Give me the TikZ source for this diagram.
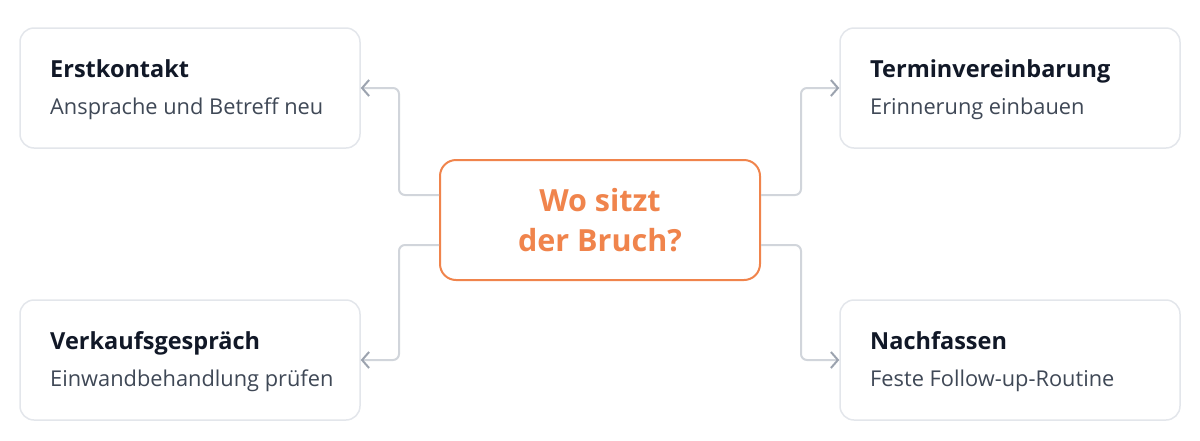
\documentclass[tikz,border=0pt]{standalone}
\usepackage{fontspec}
\setmainfont{Open Sans}
\usetikzlibrary{arrows.meta}
\definecolor{rahmen}{HTML}{E3E6EB}
\definecolor{linie}{HTML}{D1D5DB}
\definecolor{spitze}{HTML}{9CA3AF}
\definecolor{titelfarbe}{HTML}{111827}
\definecolor{textfarbe}{HTML}{3F4856}
\definecolor{orange}{HTML}{F0844C}
\tikzset{kasten/.style={draw=rahmen,fill=white,line width=1.5pt,rounded corners=14pt,minimum width=340pt,minimum height=120pt},
         mitte/.style={draw=orange,fill=white,line width=2pt,rounded corners=16pt,minimum width=320pt,minimum height=120pt,
                       align=center,text=orange,font=\fontsize{30.5}{40}\selectfont\bfseries},
         titel/.style={anchor=base west,inner sep=0pt,text=titelfarbe,font=\fontsize{23.5}{26}\selectfont\bfseries},
         zeile/.style={anchor=base west,inner sep=0pt,text=textfarbe,font=\fontsize{21.8}{24}\selectfont},
         pfeil/.style={draw=linie,line width=2pt,rounded corners=6pt,
                       -{Straight Barb[length=7pt,width=16pt,line width=2pt,color=spitze]}}}

\begin{document}
\begin{tikzpicture}[x=1pt,y=-1pt]
    \useasboundingbox (0,0) rectangle (1200,440);
    % Kaesten
    \path node [kasten] (ek) at (190,88) {}
          node [kasten] (tv) at (1010,88) {}
          node [kasten] (vg) at (190,360) {}
          node [kasten] (nf) at (1010,360) {}
          node [mitte] (bruch) at (600,220) {Wo sitzt\\der Bruch?};

    % Texte
    \node [titel] (ek-t) at (50,77) {Erstkontakt};
    \node [zeile] (ek-z) at (50,114) {Ansprache und Betreff neu};
    \node [titel] (tv-t) at (870,77) {Terminvereinbarung};
    \node [zeile] (tv-z) at (870,114) {Erinnerung einbauen};
    \node [titel] (vg-t) at (50,349) {Verkaufsgespräch};
    \node [zeile] (vg-z) at (50,386) {Einwandbehandlung prüfen};
    \node [titel] (nf-t) at (870,349) {Nachfassen};
    \node [zeile] (nf-z) at (870,386) {Feste Follow-up-Routine};

    % Verbinder
    \draw [pfeil] ([yshift=25pt]bruch.west) -- ++(-40,0) |- (ek.east);
    \draw [pfeil] ([yshift=-25pt]bruch.west) -- ++(-40,0) |- (vg.east);
    \draw [pfeil] ([yshift=25pt]bruch.east) -- ++(40,0) |- (tv.west);
    \draw [pfeil] ([yshift=-25pt]bruch.east) -- ++(40,0) |- (nf.west);
\end{tikzpicture}
\end{document}
